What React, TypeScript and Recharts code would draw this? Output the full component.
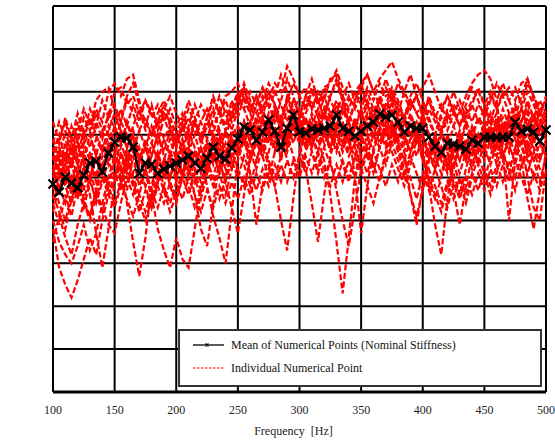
import React from "react";
import {
  LineChart,
  Line,
  XAxis,
  YAxis,
  CartesianGrid,
  Legend,
} from "recharts";

// frequency steps of 5 Hz, 100..500
const freqs = Array.from({ length: 81 }, (_, i) => 100 + i * 5);
const xTicks = [100, 150, 200, 250, 300, 350, 400, 450, 500];
const yTicks = [0, 1, 2, 3, 4, 5, 6, 7, 8, 9];

const mean = [
  4.85, 4.66, 5.01, 4.87, 4.76, 5.06, 5.34, 5.38, 5.13, 5.57,
  5.83, 5.94, 5.92, 5.71, 5.10, 5.34, 5.31, 5.10, 5.20, 5.27,
  5.34, 5.41, 5.50, 5.34, 5.21, 5.45, 5.71, 5.50, 5.43, 5.69,
  5.90, 6.18, 6.11, 5.87, 6.06, 6.34, 6.08, 5.71, 6.15, 6.46,
  6.06, 6.04, 6.13, 6.11, 6.15, 6.20, 6.46, 6.15, 6.08, 5.97,
  6.08, 6.20, 6.29, 6.48, 6.41, 6.46, 6.29, 6.06, 6.20, 6.15,
  6.15, 5.94, 5.73, 5.59, 5.80, 5.78, 5.73, 5.66, 5.87, 5.80,
  5.94, 5.94, 5.94, 5.94, 5.94, 6.29, 6.08, 6.13, 6.06, 5.85,
  6.11,
];

const s1 = [
  5.6, 6.0, 5.4, 6.2, 5.8, 6.4, 6.1, 6.6, 6.3, 7.0,
  7.2, 6.9, 7.3, 7.4, 6.8, 6.2, 6.7, 6.1, 6.5, 6.3,
  6.0, 6.4, 5.9, 6.3, 5.8, 6.2, 6.6, 6.1, 5.9, 6.5,
  6.8, 7.1, 6.6, 6.9, 6.4, 7.0, 6.7, 6.2, 6.8, 7.2,
  6.9, 7.1, 6.6, 7.0, 6.8, 7.3, 7.4, 6.9, 6.6, 7.0,
  6.7, 7.1, 6.8, 7.2, 6.9, 7.0, 6.6, 6.4, 6.8, 6.5,
  6.7, 6.3, 6.0, 6.4, 6.1, 6.5, 6.2, 6.6, 6.3, 6.7,
  6.5, 6.9, 6.6, 7.0, 6.8, 7.1, 6.7, 7.2, 6.9, 6.5,
  6.8,
];
const s2 = [
  3.8, 2.9, 2.5, 2.2, 2.6, 3.1, 3.6, 3.2, 4.0, 4.6,
  4.9, 5.3, 4.7, 5.5, 4.8, 5.2, 4.5, 4.9, 5.4, 5.0,
  5.6, 5.1, 5.7, 5.2, 4.9, 5.4, 5.9, 5.3, 5.0, 5.6,
  5.8, 6.1, 5.5, 5.9, 6.3, 5.8, 6.2, 5.4, 6.0, 6.4,
  5.9, 5.7, 6.2, 5.8, 6.1, 5.6, 6.3, 5.9, 5.5, 5.8,
  6.0, 5.7, 6.2, 6.4, 6.0, 6.3, 5.9, 5.6, 6.1, 5.8,
  6.0, 5.5, 5.2, 5.6, 5.3, 5.7, 5.4, 5.8, 6.1, 5.6,
  5.8, 6.0, 5.5, 5.9, 5.6, 6.2, 5.8, 6.0, 5.7, 5.4,
  5.9,
];
const s3 = [
  5.2, 4.6, 5.5, 4.9, 5.4, 4.7, 5.6, 5.0, 5.8, 5.3,
  5.9, 5.2, 4.4, 3.5, 2.7, 3.6, 4.8, 5.5, 5.0, 5.6,
  5.3, 5.8, 5.4, 4.9, 5.5, 4.8, 4.1, 3.6, 3.0, 4.2,
  5.4, 5.9, 6.3, 5.8, 6.1, 6.5, 5.9, 6.2, 5.7, 6.3,
  6.0, 6.4, 5.8, 6.2, 5.9, 6.3, 6.0, 5.7, 6.1, 5.8,
  6.2, 5.9, 6.4, 6.1, 6.5, 6.2, 5.8, 6.3, 5.9, 6.1,
  5.7, 5.4, 5.9, 5.5, 5.8, 5.3, 5.7, 5.4, 6.0, 5.6,
  6.1, 5.7, 6.2, 5.8, 6.3, 5.9, 6.2, 5.8, 6.4, 6.0,
  6.2,
];
const s4 = [
  4.5, 5.1, 4.8, 5.4, 4.6, 5.2, 4.9, 5.6, 5.2, 5.8,
  5.5, 6.1, 5.7, 6.0, 5.4, 5.8, 5.2, 5.6, 5.0, 5.5,
  5.2, 5.7, 5.1, 5.6, 5.3, 5.9, 5.4, 6.0, 5.6, 6.1,
  5.7, 6.3, 5.9, 6.4, 6.0, 6.2, 5.8, 6.3, 5.9, 6.6,
  6.2, 5.8, 6.3, 5.9, 5.4, 4.6, 3.5, 2.3, 3.6, 5.0,
  5.8, 6.3, 5.9, 6.5, 6.1, 6.6, 6.2, 5.9, 6.4, 6.0,
  5.6, 4.8, 3.9, 3.2, 4.5, 5.3, 5.8, 5.4, 6.0, 5.7,
  6.1, 5.8, 6.3, 5.9, 6.2, 6.6, 6.1, 6.4, 5.9, 6.2,
  6.0,
];
const s5 = [
  5.9, 5.4, 6.1, 5.6, 6.3, 5.8, 6.0, 6.5, 6.1, 6.4,
  6.7, 6.3, 6.8, 6.5, 6.1, 6.4, 6.0, 6.3, 5.9, 6.2,
  5.8, 6.1, 6.4, 6.0, 6.3, 6.6, 6.2, 6.5, 6.8, 6.4,
  6.9, 6.6, 7.0, 6.7, 7.1, 6.8, 7.2, 7.0, 7.6, 7.3,
  6.9, 6.6, 7.0, 6.7, 7.1, 6.8, 6.5, 6.9, 7.2, 6.8,
  7.1, 7.4, 7.0, 7.3, 7.5, 7.7, 7.3, 7.0, 6.7, 6.9,
  6.5, 6.8, 6.4, 6.1, 6.5, 6.2, 6.6, 6.3, 6.0, 6.4,
  6.2, 6.5, 6.1, 6.4, 6.0, 6.3, 6.6, 6.2, 6.5, 6.1,
  6.4,
];
const s6 = [
  4.2, 4.8, 4.4, 5.0, 4.5, 5.3, 4.9, 5.5, 5.1, 5.7,
  5.3, 5.8, 5.4, 5.9, 5.5, 5.1, 4.6, 3.8, 3.3, 2.9,
  3.6, 3.1, 2.9, 3.8, 4.7, 5.4, 5.0, 5.6, 5.2, 5.8,
  5.5, 6.0, 5.6, 5.2, 5.7, 5.3, 4.8, 4.0, 3.3, 4.5,
  5.6, 6.1, 5.7, 6.2, 5.8, 6.0, 5.6, 6.2, 5.8, 5.5,
  5.9, 5.5, 6.0, 5.7, 6.1, 5.8, 6.3, 5.9, 5.6, 6.0,
  5.4, 5.8, 5.3, 5.7, 5.2, 5.6, 5.9, 5.5, 5.8, 5.4,
  5.7, 5.3, 5.8, 5.5, 5.9, 5.6, 6.0, 5.7, 5.4, 5.8,
  5.5,
];
const s7 = [
  5.0, 5.5, 5.1, 5.7, 5.3, 5.8, 5.4, 5.9, 5.6, 6.2,
  5.8, 6.3, 6.0, 5.6, 6.1, 5.7, 6.2, 5.8, 6.4, 6.0,
  5.7, 6.2, 5.8, 6.3, 5.9, 6.4, 6.0, 6.6, 6.2, 6.8,
  6.4, 6.9, 6.5, 6.1, 6.6, 6.2, 6.7, 6.3, 6.9, 6.5,
  6.1, 6.5, 6.8, 6.4, 6.9, 6.5, 6.2, 6.6, 6.3, 6.7,
  6.4, 6.8, 6.5, 6.9, 6.6, 7.0, 6.7, 6.4, 6.8, 6.5,
  6.2, 6.6, 6.3, 6.0, 6.4, 6.7, 6.5, 6.9, 7.2, 7.4,
  7.5, 7.3, 6.8, 5.6, 4.0, 5.4, 6.3, 6.7, 6.4, 6.8,
  6.5,
];
const s8 = [
  5.5, 5.0, 5.6, 5.2, 5.8, 5.3, 4.6, 3.7, 2.9, 3.8,
  4.9, 5.6, 5.2, 5.8, 5.3, 5.7, 5.2, 5.6, 5.1, 5.5,
  5.0, 5.4, 5.8, 5.3, 5.7, 5.2, 5.6, 5.1, 5.5, 5.9,
  5.5, 5.9, 5.4, 5.8, 5.5, 6.0, 5.6, 6.1, 5.7, 6.2,
  5.8, 5.2, 4.4, 3.5, 4.6, 5.5, 6.0, 5.6, 6.1, 5.0,
  3.7, 4.8, 5.7, 6.2, 5.8, 6.3, 5.9, 6.4, 6.0, 6.3,
  5.9, 5.5, 5.8, 5.4, 5.9, 5.5, 5.1, 5.6, 5.3, 5.8,
  5.4, 5.9, 5.5, 6.0, 5.6, 6.1, 5.7, 5.4, 5.9, 5.5,
  5.8,
];
const s9 = [
  4.0, 3.5, 3.2, 3.0, 3.4, 3.9, 3.3, 3.7, 4.4, 5.0,
  5.5, 5.0, 5.6, 5.1, 5.7, 5.2, 5.8, 5.4, 5.9, 5.5,
  6.0, 5.6, 6.1, 5.7, 5.3, 5.8, 5.4, 5.9, 5.5, 6.0,
  6.2, 5.8, 6.3, 5.9, 6.4, 6.0, 6.5, 6.1, 6.6, 6.2,
  6.4, 6.0, 6.5, 6.1, 6.6, 6.2, 6.7, 6.3, 5.9, 6.4,
  6.1, 6.5, 6.2, 6.6, 6.3, 6.7, 6.4, 6.0, 6.5, 6.1,
  6.4, 6.0, 5.6, 6.1, 5.7, 6.2, 5.8, 6.3, 5.9, 6.4,
  6.0, 6.5, 6.1, 6.6, 6.2, 6.7, 6.3, 6.8, 6.4, 6.1,
  6.5,
];
const s10 = [
  5.3, 4.7, 5.2, 4.6, 5.1, 4.5, 5.0, 4.4, 4.9, 5.4,
  5.0, 5.5, 5.1, 5.6, 5.2, 4.8, 5.3, 4.9, 5.4, 5.0,
  5.5, 5.1, 5.6, 5.2, 5.7, 5.3, 5.8, 5.4, 4.9, 4.3,
  3.7, 4.6, 5.5, 6.0, 5.6, 6.1, 5.7, 6.2, 5.8, 6.3,
  5.9, 6.4, 6.0, 5.6, 6.1, 5.7, 6.2, 5.8, 6.3, 5.9,
  5.5, 6.0, 5.6, 6.1, 5.7, 6.2, 5.8, 5.4, 5.9, 5.5,
  6.0, 5.6, 5.2, 5.7, 5.3, 5.8, 5.4, 5.9, 5.5, 6.0,
  5.6, 6.1, 5.7, 6.2, 5.8, 5.3, 5.9, 5.0, 4.3, 4.0,
  5.2,
];
const s11 = [
  6.3, 5.8, 6.4, 5.9, 6.5, 6.0, 6.6, 6.2, 6.8, 6.4,
  7.0, 7.1, 6.7, 6.9, 6.5, 6.8, 6.4, 6.7, 6.3, 6.6,
  6.2, 6.5, 6.1, 6.4, 6.0, 6.3, 5.9, 6.2, 6.6, 6.3,
  6.7, 7.2, 6.8, 6.5, 6.9, 6.6, 7.0, 6.7, 6.3, 6.8,
  6.5, 6.9, 6.6, 7.0, 6.7, 6.4, 6.8, 6.5, 6.9, 6.6,
  7.0, 6.7, 6.4, 6.8, 6.5, 6.9, 6.6, 6.3, 6.7, 6.9,
  7.1, 7.4, 7.0, 6.6, 6.9, 6.5, 6.8, 6.4, 6.7, 6.3,
  6.6, 6.2, 6.5, 6.1, 6.4, 6.7, 6.3, 6.6, 6.2, 6.5,
  6.3,
];
const s12 = [
  4.8, 5.4, 4.9, 5.5, 5.0, 5.6, 5.1, 4.7, 5.3, 4.8,
  5.4, 4.9, 5.5, 5.0, 4.6, 5.2, 4.7, 5.3, 4.8, 5.4,
  4.9, 5.5, 5.0, 5.6, 5.1, 5.7, 5.3, 5.8, 5.4, 5.9,
  5.5, 6.0, 5.1, 3.9, 4.8, 5.6, 6.1, 5.7, 6.2, 5.8,
  6.3, 5.9, 6.4, 6.0, 6.5, 6.1, 5.7, 6.2, 5.8, 6.3,
  5.9, 6.4, 6.0, 6.5, 6.1, 6.6, 6.2, 5.8, 6.3, 5.9,
  6.4, 6.0, 5.5, 5.1, 5.6, 4.7, 3.9, 4.8, 5.5, 6.0,
  5.7, 6.2, 5.8, 6.3, 5.9, 6.4, 6.0, 6.5, 6.1, 5.8,
  6.3,
];
const s13 = [
  5.7, 5.2, 5.8, 5.3, 5.9, 5.4, 6.0, 5.5, 6.1, 5.6,
  6.2, 5.7, 6.3, 5.8, 5.4, 5.9, 5.5, 6.0, 5.6, 6.1,
  5.7, 6.2, 5.8, 6.3, 5.9, 5.5, 6.0, 5.6, 6.1, 5.7,
  6.2, 5.8, 6.3, 5.9, 6.4, 6.0, 6.5, 6.1, 5.7, 6.2,
  5.8, 6.3, 5.9, 6.4, 6.0, 6.5, 6.1, 6.6, 6.2, 5.7,
  5.2, 4.8, 4.4, 5.0, 5.6, 6.1, 5.7, 5.2, 4.6, 4.1,
  4.7, 5.4, 5.9, 5.5, 6.0, 5.6, 6.1, 5.7, 6.2, 5.8,
  6.3, 5.9, 6.4, 6.0, 6.5, 6.1, 6.6, 6.2, 5.8, 6.3,
  5.9,
];
const s14 = [
  5.1, 5.7, 5.3, 5.9, 5.5, 6.1, 5.7, 6.3, 5.9, 6.5,
  6.1, 6.6, 6.2, 6.7, 6.3, 6.8, 6.5, 6.2, 6.6, 6.9,
  6.5, 6.2, 6.6, 6.3, 6.7, 6.4, 6.8, 6.5, 6.9, 7.0,
  7.2, 6.8, 6.5, 6.9, 6.6, 7.0, 6.7, 6.4, 6.8, 6.5,
  6.9, 6.6, 7.0, 6.7, 7.1, 7.2, 7.5, 7.1, 6.8, 7.0,
  7.2, 7.4, 7.0, 6.7, 7.1, 6.8, 7.2, 6.9, 6.6, 6.9,
  6.5, 6.8, 6.4, 6.7, 6.3, 6.6, 6.2, 6.5, 6.8, 7.0,
  6.7, 7.0, 6.6, 6.9, 7.1, 6.8, 7.2, 7.3, 6.9, 6.6,
  6.7,
];
const s15 = [
  4.4, 3.9, 4.6, 4.1, 4.8, 4.3, 4.9, 4.5, 5.0, 4.6,
  5.1, 4.7, 5.2, 4.8, 4.2, 4.7, 4.3, 4.8, 4.4, 4.9,
  4.5, 5.0, 4.6, 5.1, 4.7, 5.2, 4.8, 5.3, 4.9, 5.4,
  5.0, 5.5, 5.1, 4.7, 5.2, 4.8, 5.3, 4.9, 5.4, 5.0,
  5.5, 5.1, 5.6, 5.2, 5.7, 5.3, 4.9, 5.4, 5.0, 5.5,
  5.1, 5.6, 5.2, 5.7, 5.3, 5.8, 5.4, 5.0, 5.5, 5.1,
  4.7, 5.2, 4.8, 4.4, 4.9, 4.5, 5.0, 4.6, 5.1, 4.7,
  5.2, 4.8, 5.3, 4.9, 5.4, 5.0, 5.5, 5.1, 5.6, 5.2,
  5.0,
];
const s16 = [
  3.5, 4.1, 3.6, 3.2, 3.9, 4.4, 4.0, 4.6, 4.2, 4.8,
  4.4, 4.9, 4.5, 4.1, 4.6, 4.2, 4.7, 4.3, 4.8, 4.4,
  4.9, 4.5, 5.0, 4.6, 4.2, 4.7, 4.3, 4.8, 4.4, 4.9,
  4.5, 5.0, 4.6, 5.1, 4.7, 5.2, 4.8, 5.3, 4.9, 5.4,
  5.0, 5.5, 5.1, 5.6, 5.2, 4.8, 5.3, 4.9, 5.4, 5.0,
  5.5, 5.1, 5.6, 5.2, 4.8, 5.3, 4.9, 5.4, 5.0, 4.5,
  5.1, 4.7, 5.2, 4.8, 4.3, 4.9, 4.5, 5.0, 4.6, 5.1,
  4.7, 5.2, 4.8, 5.3, 4.9, 5.4, 5.0, 4.6, 5.1, 4.7,
  5.2,
];
const s17 = [
  4.6, 4.2, 3.8, 4.5, 4.9, 4.4, 4.1, 4.7, 5.2, 4.6,
  4.3, 4.8, 5.3, 4.9, 4.4, 4.0, 4.5, 5.1, 4.7, 4.2,
  4.6, 5.2, 4.8, 4.3, 4.7, 5.3, 4.9, 4.5, 5.0, 5.6,
  5.2, 4.8, 5.4, 5.9, 5.5, 5.0, 5.6, 6.0, 5.4, 5.0,
  5.5, 6.1, 5.6, 5.1, 5.7, 6.2, 5.8, 5.3, 4.9, 5.5,
  6.0, 5.5, 5.1, 5.7, 6.2, 5.6, 5.2, 4.8, 5.3, 5.9,
  5.4, 4.9, 4.5, 5.0, 5.5, 5.1, 4.6, 5.2, 5.7, 5.3,
  4.9, 5.5, 6.0, 5.6, 5.1, 5.7, 6.1, 5.5, 5.0, 5.4,
  5.8,
];
const s18 = [
  5.8, 6.3, 5.9, 5.5, 6.1, 6.6, 6.2, 6.8, 7.0, 7.1,
  6.6, 6.3, 6.9, 7.2, 6.7, 6.3, 6.0, 6.5, 6.8, 6.4,
  6.0, 5.7, 6.2, 6.7, 6.3, 5.9, 6.4, 6.9, 6.5, 6.1,
  6.6, 7.0, 6.7, 6.3, 6.8, 7.2, 6.9, 7.4, 7.0, 6.6,
  6.2, 6.7, 7.1, 6.8, 6.4, 6.9, 7.3, 6.8, 6.5, 6.1,
  6.6, 7.0, 6.6, 6.2, 6.7, 7.1, 6.8, 6.4, 6.9, 7.2,
  6.8, 6.4, 6.0, 6.5, 6.9, 6.6, 6.2, 6.7, 7.1, 6.8,
  6.4, 6.8, 7.2, 6.9, 6.5, 6.1, 6.6, 7.0, 6.7, 6.3,
  6.6,
];
const s19 = [
  5.0, 5.6, 5.1, 4.7, 5.3, 5.8, 5.4, 4.9, 5.5, 6.0,
  5.6, 5.2, 5.7, 6.1, 5.6, 5.1, 5.5, 6.0, 5.5, 5.0,
  5.4, 5.9, 5.3, 4.6, 3.8, 3.4, 4.4, 5.3, 5.8, 5.4,
  5.9, 6.3, 5.8, 5.4, 5.9, 6.4, 6.0, 5.5, 6.1, 6.6,
  6.2, 5.7, 6.2, 6.6, 6.1, 5.7, 6.2, 6.7, 6.3, 5.8,
  6.3, 6.7, 6.2, 5.8, 6.3, 6.8, 6.3, 5.6, 4.6, 3.9,
  4.8, 5.6, 6.0, 5.5, 5.1, 5.6, 6.0, 5.6, 5.2, 5.7,
  6.2, 5.8, 5.3, 5.8, 6.3, 5.9, 5.4, 4.5, 3.8, 4.7,
  5.6,
];
const s20 = [
  5.4, 5.9, 6.3, 5.8, 5.4, 5.9, 6.4, 6.0, 5.6, 6.1,
  6.5, 6.1, 5.7, 6.2, 6.6, 6.1, 5.8, 6.3, 6.7, 6.2,
  5.8, 6.3, 6.8, 6.4, 5.9, 6.4, 6.9, 6.5, 6.1, 6.6,
  7.0, 6.6, 6.2, 6.7, 7.1, 6.7, 6.3, 6.8, 7.3, 6.9,
  6.4, 6.9, 7.3, 6.8, 6.4, 6.9, 7.2, 6.8, 6.3, 6.8,
  7.2, 6.7, 6.3, 6.8, 7.3, 6.9, 6.5, 7.0, 7.4, 6.9,
  6.4, 6.9, 6.5, 6.1, 6.6, 7.0, 6.6, 6.2, 6.7, 7.1,
  6.7, 6.3, 6.8, 7.2, 6.8, 6.4, 6.9, 7.3, 6.8, 6.4,
  6.9,
];
const s21 = [
  4.9, 4.4, 4.0, 4.6, 5.1, 4.5, 4.1, 4.7, 4.3, 3.9,
  3.7, 4.4, 5.0, 4.6, 5.2, 4.8, 4.3, 4.9, 5.4, 4.8,
  4.4, 5.0, 5.5, 5.0, 4.5, 5.1, 5.6, 5.1, 4.6, 5.2,
  5.7, 5.3, 4.8, 5.4, 5.9, 5.4, 5.0, 5.5, 6.0, 5.5,
  5.1, 5.6, 6.0, 5.5, 5.0, 5.4, 4.7, 4.0, 3.4, 4.3,
  5.2, 5.7, 5.3, 4.9, 5.5, 6.0, 5.6, 5.1, 5.6, 6.0,
  5.5, 5.0, 4.6, 4.2, 4.8, 5.3, 4.9, 4.4, 5.0, 5.5,
  5.1, 4.6, 5.1, 5.6, 5.2, 4.7, 5.3, 5.8, 5.4, 4.9,
  5.5,
];
const s22 = [
  4.7, 5.2, 4.8, 4.4, 5.0, 5.5, 5.0, 5.6, 5.1, 5.7,
  6.2, 5.8, 6.3, 5.9, 5.4, 5.8, 5.3, 4.9, 5.4, 5.9,
  5.4, 5.0, 5.6, 6.0, 5.5, 5.1, 5.7, 6.1, 5.6, 5.2,
  5.8, 6.3, 5.8, 6.2, 5.7, 6.2, 6.6, 6.1, 5.6, 6.1,
  6.6, 6.1, 5.7, 6.2, 6.6, 6.0, 6.5, 6.1, 5.6, 6.2,
  6.6, 6.1, 6.5, 6.9, 6.4, 6.0, 6.5, 6.0, 5.6, 6.1,
  6.5, 6.0, 5.5, 6.0, 5.6, 5.2, 5.8, 6.2, 5.7, 5.3,
  5.8, 6.3, 5.8, 5.4, 6.0, 6.5, 6.0, 5.6, 6.1, 6.5,
  6.0,
];

const individual = [
  s1, s2, s3, s4, s5, s6, s7, s8, s9, s10, s11,
  s12, s13, s14, s15, s16, s17, s18, s19, s20, s21, s22,
];

const data = freqs.map((f, i) => {
  const row: Record<string, number> = { f, mean: mean[i] };
  individual.forEach((s, k) => {
    row["s" + k] = s[i];
  });
  return row;
});

const FONT = "'Liberation Serif', 'Times New Roman', serif";

const Cross = (props: any) => {
  const { cx, cy, index } = props;
  if (cx == null || cy == null) return <g key={index} />;
  const r = 4.5;
  return (
    <path
      key={index}
      d={`M${cx - r},${cy - r}L${cx + r},${cy + r}M${cx - r},${cy + r}L${cx + r},${cy - r}`}
      stroke="#000"
      strokeWidth={2.2}
      fill="none"
    />
  );
};

const LegendBox = () => (
  <div
    style={{
      width: 360,
      height: 54,
      border: "2px solid #333",
      background: "#fff",
      fontFamily: FONT,
      fontSize: 12,
      color: "#111",
      boxSizing: "content-box",
    }}
  >
    <div style={{ display: "flex", alignItems: "center", height: 14, marginTop: 7, marginLeft: 13 }}>
      <svg width={32} height={10} style={{ marginRight: 6 }}>
        <line x1={0} y1={5} x2={31} y2={5} stroke="#000" strokeWidth={1.3} />
        <path d="M12.5,3.5L15.5,6.5M12.5,6.5L15.5,3.5" stroke="#000" strokeWidth={1.2} />
      </svg>
      <span>Mean of Numerical Points (Nominal Stiffness)</span>
    </div>
    <div style={{ display: "flex", alignItems: "center", height: 14, marginTop: 9, marginLeft: 13 }}>
      <svg width={32} height={10} style={{ marginRight: 6 }}>
        <line x1={0} y1={5} x2={31} y2={5} stroke="#ff0000" strokeWidth={1.2} strokeDasharray="2.5 1.5" />
      </svg>
      <span>Individual Numerical Point</span>
    </div>
  </div>
);

export default function App() {
  return (
    <div style={{ position: "absolute", left: 0, top: 0, width: 555, height: 442, background: "#fff" }}>
      <LineChart
        width={555}
        height={442}
        data={data}
        margin={{ top: 6, right: 9, bottom: 30, left: 53 }}
      >
        <CartesianGrid stroke="#000" strokeWidth={2} strokeOpacity={1} />
        <XAxis
          dataKey="f"
          type="number"
          domain={[100, 500]}
          ticks={xTicks}
          interval={0}
          height={20}
          axisLine={{ stroke: "#000", strokeWidth: 3 }}
          tickLine={false}
          tickMargin={7}
          tick={{ fill: "#222", fontSize: 12, fontFamily: FONT }}
          label={{
            value: "Frequency\u00a0\u00a0[Hz]",
            position: "bottom",
            offset: 14,
            dx: -6,
            style: { fill: "#222", fontSize: 12, fontFamily: FONT },
          }}
        />
        <YAxis
          type="number"
          domain={[0, 9]}
          ticks={yTicks}
          interval={0}
          width={0}
          tickFormatter={() => ""}
          tickSize={3}
          tickLine={{ stroke: "#000", strokeWidth: 3 }}
          axisLine={{ stroke: "#000", strokeWidth: 3 }}
          label={{
            content: () => (
              <text
                x={21}
                y={182}
                transform="rotate(-90 21 182)"
                textAnchor="middle"
                fill="#222"
                fontSize={12}
                fontFamily={FONT}
              >
                Velocity
              </text>
            ),
          }}
        />
        {individual.map((_, k) => (
          <Line
            key={"s" + k}
            dataKey={"s" + k}
            type="linear"
            stroke="#ff0000"
            strokeWidth={2.2}
            strokeDasharray="6 2.5"
            dot={false}
            activeDot={false}
            isAnimationActive={false}
          />
        ))}
        <Line
          dataKey="mean"
          type="linear"
          stroke="#000"
          strokeWidth={2.2}
          dot={Cross}
          activeDot={false}
          isAnimationActive={false}
        />
        <Legend
          layout="horizontal"
          align="center"
          verticalAlign="middle"
          content={() => <LegendBox />}
          wrapperStyle={{ position: "absolute", left: 178, top: 329, width: 364, height: 58 }}
        />
      </LineChart>
    </div>
  );
}
